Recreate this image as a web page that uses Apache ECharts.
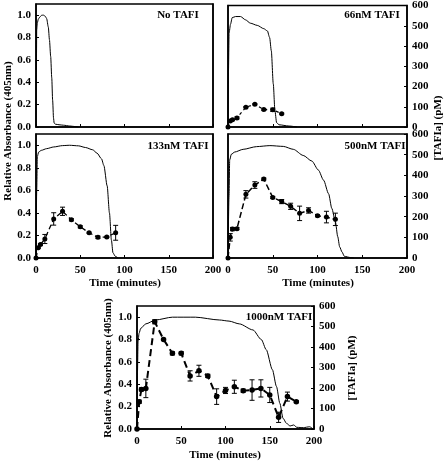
<!DOCTYPE html>
<html><head><meta charset="utf-8">
<script src="https://cdn.jsdelivr.net/npm/echarts@6/dist/echarts.min.js"></script>
<style>html,body{margin:0;padding:0;background:#fff}#c{width:448px;height:461px}</style>
</head><body><div id="c"></div>
<script>
// ---- Data ----
const panelNames = ['No TAFI', '66nM TAFI', '133nM TAFI', '500nM TAFI', '1000nM TAFI'];
const xTicks = [0, 50, 100, 150, 200];
const absTicks = [0.0, 0.2, 0.4, 0.6, 0.8, 1.0];
const pmTicks = [0, 100, 200, 300, 400, 500, 600];

// Relative absorbance curves [time, absorbance]
const absNoTafi = [[0,0],[0.4,0.45],[0.8,0.87],[1.5,0.93],[2.6,0.965],[4.5,0.985],[6.5,1.0],[8.5,1.0],[10.5,0.99],[12,0.97],[13.9,0.895],[15.2,0.78],[16.6,0.63],[17.8,0.44],[18.8,0.24],[19.8,0.08],[20.5,0.035],[22,0.025],[26,0.02],[31,0.016],[38,0.009],[44,0.004],[48,0]];
const abs66 = [[0,0],[0.5,0.5],[1.2,0.85],[2.8,0.93],[4.7,0.99],[8.4,1.0],[14,1.0],[19.6,0.97],[25,0.94],[32.7,0.92],[40,0.89],[44,0.87],[46.5,0.81],[48.4,0.69],[50.6,0.39],[52.4,0.15],[54.3,0.04],[57,0.02],[68,0.009],[77,0]];
const abs133 = [[0,0],[0.8,0.6],[1.5,0.9],[3,0.94],[6,0.955],[12,0.97],[20,0.985],[30,0.997],[38,1.0],[48,0.995],[56,0.98],[64,0.96],[69,0.93],[74,0.88],[76.7,0.82],[80.4,0.64],[83,0.40],[85.2,0.16],[87,0.045],[89.6,0.015],[92.6,0]];
const abs500 = [[0,0],[1.1,0.54],[1.9,0.87],[3.7,0.92],[7.5,0.94],[16.9,0.964],[31.9,0.988],[46.8,0.997],[61.8,0.99],[73,0.964],[84,0.91],[93.7,0.86],[101,0.78],[106.8,0.69],[112.4,0.57],[116,0.44],[120,0.32],[122.6,0.19],[124.8,0.098],[127.4,0.053],[130,0.015],[136.8,0.004],[140.5,0]];
const abs1000 = [[0,0],[0.5,0.5],[1.2,0.78],[2.3,0.855],[4.2,0.9],[9.9,0.94],[21,0.975],[40,1.0],[66,1.0],[93,0.975],[104,0.965],[115.7,0.94],[131,0.886],[140.5,0.80],[146,0.71],[153,0.53],[157.6,0.38],[161.4,0.23],[165,0.096],[169,0.05],[173,0.027],[177,0.036],[180.6,0.015],[188,0.012],[195,0.02],[199,0]];

// TAFIa (pM): times, values, error half-widths
const t66 = [0, 2.5, 5, 10, 20, 30, 40, 50, 60];
const v66 = [0, 30, 36, 45, 98, 112, 86, 85, 66];
const e66 = [0, 3, 3, 5, 3, 3, 4, 8, 3];

const t133 = [0, 2.5, 5, 10, 20, 30, 40, 50, 60, 70, 80, 90];
const v133 = [0, 49, 65, 92, 189, 226, 185, 151, 122, 100, 102, 122];
const e133 = [0, 3, 4, 22, 30, 20, 5, 5, 3, 6, 3, 36];

const t500 = [0, 2.5, 5, 10, 20, 30, 40, 50, 60, 70, 80, 90, 100, 110, 120];
const v500 = [0, 100, 140, 142, 308, 353, 382, 293, 273, 250, 216, 230, 205, 198, 187];
const e500 = [0, 18, 8, 5, 18, 16, 5, 5, 10, 15, 35, 13, 5, 28, 30];

const t1000 = [0, 2.5, 5, 10, 20, 30, 40, 50, 60, 70, 80, 90, 100, 110, 120, 130, 140, 150, 160, 170, 180];
const v1000 = [0, 133, 193, 198, 523, 437, 369, 369, 259, 284, 259, 158, 188, 206, 187, 190, 198, 166, 57, 158, 133];
const e1000 = [0, 8, 8, 45, 10, 5, 8, 8, 25, 27, 8, 38, 15, 32, 8, 50, 42, 37, 25, 22, 5];

// ---- Layout ----
const FONT = '"Liberation Serif", "Times New Roman", serif';
const grids = [
  {left: 36, top: 4, width: 177, height: 123},
  {left: 228, top: 4, width: 179, height: 123},
  {left: 36, top: 134, width: 177, height: 124},
  {left: 228, top: 134, width: 179, height: 124},
  {left: 137, top: 306, width: 177, height: 123}
];
const showX = [false, false, true, true, true];
const showLeft = [true, false, true, false, true];
const showRight = [false, true, false, true, true];
const absSets = [absNoTafi, abs66, abs133, abs500, abs1000];
const tafSets = [null, [t66, v66, e66], [t133, v133, e133], [t500, v500, e500], [t1000, v1000, e1000]];
const dashes = [null, [3, 3], [5, 3], [6, 3], [7, 4]];
const dashW = [0, 1.2, 1.3, 1.5, 2];

const lbl = {fontFamily: FONT, fontWeight: 'bold', fontSize: 11, color: '#000'};
const xAxis = [], yAxis = [], series = [];
grids.forEach((g, i) => {
  g.show = true; g.borderColor = '#000'; g.borderWidth = 1.5; g.containLabel = false;
  xAxis.push({type: 'value', gridIndex: i, min: 0, max: 200, interval: 50,
    axisLine: {show: true, onZero: false, lineStyle: {color: '#000', width: 1.5}},
    axisTick: {show: true, inside: true, length: 3, lineStyle: {color: '#000'}},
    splitLine: {show: false},
    axisLabel: Object.assign({show: showX[i], margin: 7, formatter: v => xTicks.includes(v) ? String(v) : ''}, lbl)});
});
grids.forEach((g, i) => {
  yAxis.push({type: 'value', gridIndex: i, min: 0, max: 1.1, interval: 0.2, position: 'left',
    axisLine: {show: true, lineStyle: {color: '#000', width: 1.5}},
    axisTick: {show: showLeft[i], inside: true, length: 3, lineStyle: {color: '#000'}},
    splitLine: {show: false},
    axisLabel: Object.assign({show: showLeft[i], showMaxLabel: false, margin: 5,
      formatter: v => absTicks.some(a => Math.abs(a - v) < 1e-6) ? v.toFixed(1) : ''}, lbl)});
});
grids.forEach((g, i) => {
  yAxis.push({type: 'value', gridIndex: i, min: 0, max: 600, interval: 100, position: 'right',
    axisLine: {show: true, lineStyle: {color: '#000', width: 1.5}},
    axisTick: {show: showRight[i], inside: true, length: 3, lineStyle: {color: '#000'}},
    splitLine: {show: false},
    axisLabel: Object.assign({show: showRight[i], margin: 5,
      formatter: v => pmTicks.includes(v) ? String(v) : ''}, lbl)});
});

grids.forEach((g, i) => {
  series.push({type: 'line', xAxisIndex: i, yAxisIndex: i, data: absSets[i],
    showSymbol: false, smooth: 0.25, smoothMonotone: 'x',
    lineStyle: {color: '#000', width: 1}, z: 3, silent: true});
  const ts = tafSets[i];
  if (ts) {
    const [tt, vv, ee] = ts;
    const pts = tt.map((t, k) => [t, vv[k]]);
    const eb = tt.map((t, k) => [t, vv[k], ee[k]]);
    series.push({type: 'line', xAxisIndex: i, yAxisIndex: 5 + i, data: pts,
      symbol: 'circle', symbolSize: i === 4 ? 5.5 : 5, showSymbol: true,
      itemStyle: {color: '#000'},
      lineStyle: {color: '#000', width: dashW[i], type: dashes[i]}, z: 4, silent: true});
    series.push({type: 'custom', xAxisIndex: i, yAxisIndex: 5 + i, data: eb, z: 5, silent: true,
      renderItem: (params, api) => {
        const x = api.value(0), y = api.value(1), e = api.value(2);
        if (!e) return null;
        const a = api.coord([x, y + e]), b = api.coord([x, y - e]);
        const w = 2.5;
        const st = {stroke: '#000', lineWidth: 1};
        return {type: 'group', children: [
          {type: 'line', shape: {x1: a[0], y1: a[1], x2: b[0], y2: b[1]}, style: st},
          {type: 'line', shape: {x1: a[0] - w, y1: a[1], x2: a[0] + w, y2: a[1]}, style: st},
          {type: 'line', shape: {x1: b[0] - w, y1: b[1], x2: b[0] + w, y2: b[1]}, style: st}
        ]};
      }});
  }
});

const tf = 'bold 11px ' + FONT;
function txt(s, x, y, rot, align) {
  return {type: 'text', x: x, y: y, rotation: rot || 0, z: 10,
    style: {text: s, font: tf, fill: '#000', textAlign: align || 'center', textVerticalAlign: 'middle'}};
}
const graphic = [
  txt(panelNames[0], 178, 15, 0, 'center'),
  txt(panelNames[1], 372, 15, 0, 'center'),
  txt(panelNames[2], 178, 146, 0, 'center'),
  txt(panelNames[3], 375, 146, 0, 'center'),
  txt(panelNames[4], 279, 317, 0, 'center'),
  txt('Relative Absorbance (405nm)', 8, 131, Math.PI / 2),
  txt('[TAFIa] (pM)', 438, 128, Math.PI / 2),
  txt('Time (minutes)', 125, 283),
  txt('Time (minutes)', 318, 283),
  txt('Relative Absorbance (405nm)', 108, 368, Math.PI / 2),
  txt('[TAFIa] (pM)', 352, 368, Math.PI / 2),
  txt('Time (minutes)', 225, 455)
];

const chart = echarts.init(document.getElementById('c'), null, {renderer: 'canvas'});
chart.setOption({animation: false, backgroundColor: '#fff', grid: grids, xAxis, yAxis, series, graphic});
</script></body></html>
